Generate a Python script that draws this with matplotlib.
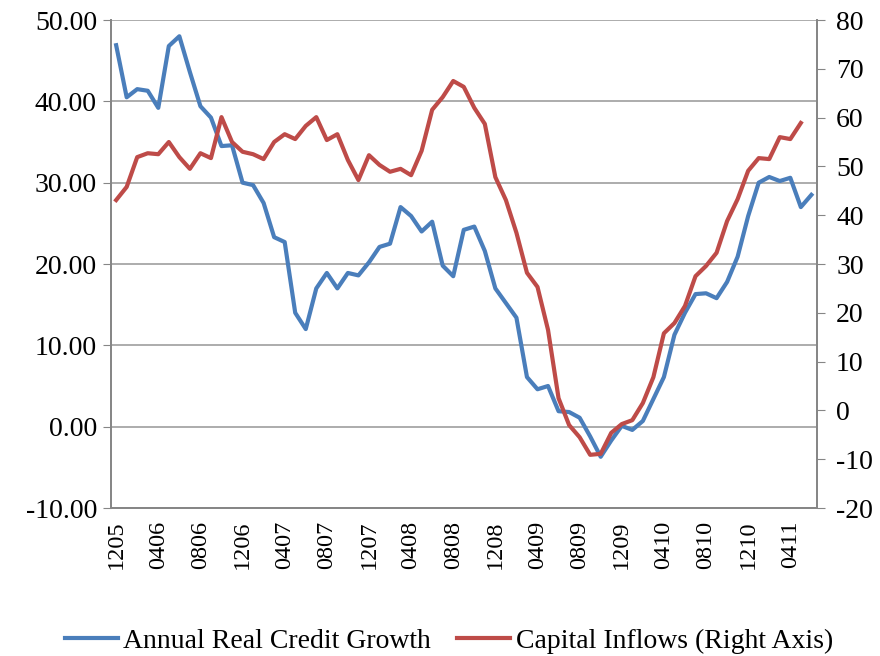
import matplotlib
matplotlib.use("Agg")
from matplotlib import pyplot as plt
from matplotlib.ticker import FormatStrFormatter

plt.rcParams['font.family'] = ['Liberation Serif', 'DejaVu Serif']
plt.rcParams['font.size'] = 20
plt.rcParams['axes.unicode_minus'] = False

# monthly data, Dec 2005 .. Jun 2011
credit_growth = [46.9, 40.5, 41.5, 41.3, 39.2, 46.8, 48.0, 43.6, 39.4, 38.0,
                 34.5, 34.6, 30.0, 29.7, 27.5, 23.3, 22.7, 14.0, 12.0, 17.0,
                 18.9, 17.0, 18.9, 18.6, 20.2, 22.1, 22.5, 27.0, 25.9, 24.0,
                 25.2, 19.8, 18.5, 24.2, 24.6, 21.6, 17.0, 15.2, 13.4, 6.1,
                 4.6, 5.0, 1.9, 1.8, 1.1, -1.2, -3.7, -1.7, 0.1, -0.4,
                 0.7, 3.4, 6.1, 11.3, 14.0, 16.3, 16.4, 15.8, 17.8, 20.9,
                 25.9, 30.0, 30.7, 30.2, 30.6, 27.0, 28.5]
capital_inflows = [43.1, 45.8, 51.9, 52.7, 52.5, 55.0, 51.9, 49.5, 52.7, 51.7,
                   60.1, 55.0, 53.0, 52.5, 51.5, 55.0, 56.6, 55.6, 58.3, 60.1,
                   55.4, 56.6, 51.3, 47.2, 52.3, 50.3, 48.9, 49.5, 48.2, 53.2,
                   61.6, 64.2, 67.5, 66.3, 62.0, 58.7, 47.8, 43.1, 36.4, 28.2,
                   25.3, 16.5, 2.5, -3.0, -5.5, -9.1, -8.9, -4.6, -2.8, -2.0,
                   1.5, 6.8, 15.8, 17.9, 21.4, 27.5, 29.6, 32.3, 38.8, 43.3,
                   49.1, 51.7, 51.5, 56.0, 55.6, 58.9]
tick_labels = ['1205', '0406', '0806', '1206', '0407', '0807', '1207', '0408',
               '0808', '1208', '0409', '0809', '1209', '0410', '0810', '1210',
               '0411']

fig = plt.figure(figsize=(8.8, 6.56), dpi=100)
ax = fig.add_axes([0.126, 0.2256, 0.802, 0.7439])
ax2 = ax.twinx()

grey = '#868686'
l1, = ax.plot(range(len(credit_growth)), credit_growth, color='#4A7EBB', lw=3.0,
              label='Annual Real Credit Growth', zorder=3)
l2, = ax2.plot(range(len(capital_inflows)), capital_inflows, color='#BE4B48', lw=3.0,
               label='Capital Inflows (Right Axis)', zorder=3)

ax.set_xlim(-0.5, len(credit_growth) - 0.5)
ax.set_ylim(-10, 50)
ax.set_yticks(range(-10, 51, 10))
ax.yaxis.set_major_formatter(FormatStrFormatter('%.2f'))
ax2.set_ylim(-20, 80)
ax2.set_yticks(range(-20, 81, 10))

ax.set_xticks(range(0, len(credit_growth), 4))
ax.set_xticklabels(tick_labels, rotation=90, fontsize=17.5)
ax.tick_params(axis='x', length=0, pad=9)
ax.tick_params(axis='y', length=6, color=grey, pad=4, labelsize=20)
ax2.tick_params(axis='y', length=6, color=grey, pad=8, labelsize=20)

ax.grid(axis='y', color='#A6A6A6', lw=1.3)
ax.set_axisbelow(True)
for a in (ax, ax2):
    a.spines['top'].set_visible(False)
    for s in ('left', 'right', 'bottom'):
        a.spines[s].set_color(grey)
        a.spines[s].set_linewidth(1.3)

fig.legend(handles=[l1, l2], loc='lower center', ncol=2, frameon=False,
           bbox_to_anchor=(0.51, -0.035), handlelength=1.9, handletextpad=0.2,
           columnspacing=0.95, fontsize=20)

plt.savefig('out.png', dpi=100)
